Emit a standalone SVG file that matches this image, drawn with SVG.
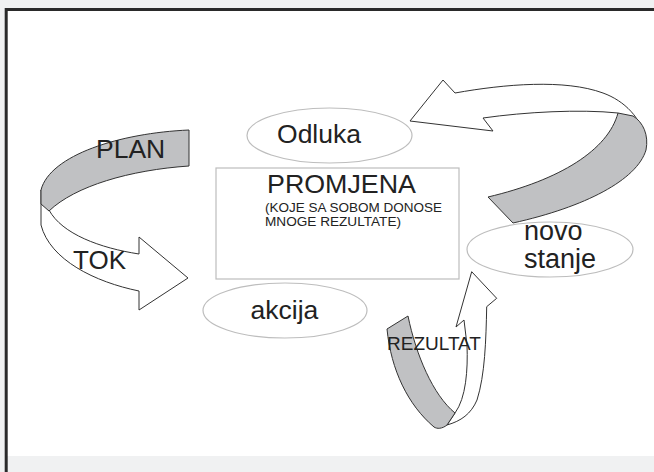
<svg xmlns="http://www.w3.org/2000/svg" width="654" height="472" viewBox="0 0 654 472">
<style>
.t{font-family:"Liberation Sans",Arial,sans-serif;fill:#222}
.node{fill:#fff;stroke:#bdbdbd;stroke-width:1.2}
.rib{stroke:#333;stroke-width:1;stroke-linejoin:round}
.w{fill:#fff}
.g{fill:#c0c1c3}
</style>
<rect x="0" y="0" width="654" height="472" fill="#f0f1f2"/>
<rect x="7" y="11" width="647" height="445" fill="#fff"/>
<path d="M6.2,472 V9.5 H654" fill="none" stroke="#2a2a2a" stroke-width="3"/>

<g id="connectors">
  <g id="arrow-plan-tok">
    <path class="rib w" d="M41,190 L41,225 C50,260 95,282 139,291 L139,310 L188,278 L139,237 L139,254 C100,248 62,234 49,210 Z"/>
    <path class="rib g" d="M189,130 C120,133 50,155 41,190 L41,204 L49,211 C75,186 130,170 189,166 Z"/>
    <text class="t" x="96" y="158" font-size="26.5">PLAN</text>
    <text class="t" x="73" y="269" font-size="26">TOK</text>
  </g>
  <g id="arrow-novo-odluka">
    <path class="rib w" d="M410,121 L443,80 L455,93 C505,84 565,79 603,93 C625,101 641,118 646,140 L618,113 C580,109 525,112 483,118 L493,131 Z"/>
    <path class="rib g" d="M618,113 C608,150 560,180 488,197 L513,223 C585,207 637,180 646,150 C649,135 643,122 633,116 Z"/>
  </g>
  <g id="arrow-rezultat">
    <path class="rib w" d="M455,413 C466,398 468,370 467,345 L464,320 L456,327 L471.7,271.7 L496.7,298.3 L486.7,306.7 C486,340 485,375 477,400 C471,414 461,421 447,425 Z"/>
    <path class="rib g" d="M387,329 L408,316 C416,355 433,395 455,413 L447,425 C442,429 437,429 434,427 C408,405 391,370 387,329 Z"/>
    <text class="t" x="387" y="350" font-size="18.5" textLength="94" lengthAdjust="spacingAndGlyphs">REZULTAT</text>
  </g>
</g>

<g id="odluka">
  <ellipse class="node" cx="329.5" cy="135.5" rx="82.5" ry="27.5"/>
  <text class="t" x="319" y="143" font-size="26.5" text-anchor="middle">Odluka</text>
</g>
<g id="promjena">
  <rect x="216" y="168" width="243" height="111" fill="#fff" stroke="#bdbdbd" stroke-width="1.2"/>
  <text class="t" x="267" y="193" font-size="26.5" textLength="149" lengthAdjust="spacingAndGlyphs">PROMJENA</text>
  <text class="t" x="265" y="211.5" font-size="13.4" textLength="177" lengthAdjust="spacingAndGlyphs">(KOJE SA SOBOM DONOSE</text>
  <text class="t" x="265" y="226" font-size="13.4" textLength="136" lengthAdjust="spacingAndGlyphs">MNOGE REZULTATE)</text>
</g>
<g id="akcija">
  <ellipse class="node" cx="285" cy="310.5" rx="82" ry="27.5"/>
  <text class="t" x="284.5" y="319" font-size="26.5" text-anchor="middle">akcija</text>
</g>
<g id="novo-stanje">
  <ellipse class="node" cx="550" cy="249.5" rx="83" ry="27.5"/>
  <text class="t" x="524" y="240" font-size="27">novo</text>
  <text class="t" x="524" y="268" font-size="27">stanje</text>
</g>
</svg>
